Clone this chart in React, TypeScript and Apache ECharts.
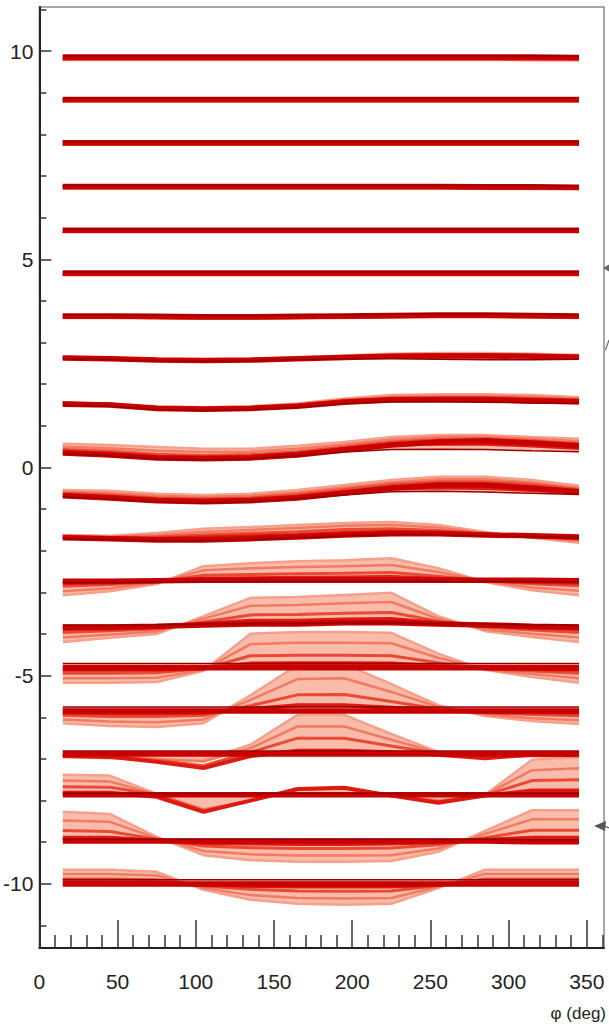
import React, { useEffect, useRef } from "react";
import * as echarts from "echarts";

// phi sample points (deg)
const phi = [15, 45, 75, 105, 135, 165, 195, 225, 255, 285, 315, 345];

// baseline value of every bundle (top to bottom)
const levels = [9.86, 8.84, 7.8, 6.75, 5.7, 4.67, 3.64, 2.63, 1.52, 0.35, -0.68, -1.69, -2.73, -3.83, -4.81, -5.85, -6.88, -7.86, -8.97, -10.0];

// offsets from the bundle baseline; lines per bundle: palest, pale, light, red, main, darkest
const b01 = [
  [-0.07, -0.07, -0.07, -0.07, -0.07, -0.07, -0.07, -0.07, -0.07, -0.07, -0.08, -0.08],
  [-0.06, -0.06, -0.06, -0.06, -0.06, -0.06, -0.06, -0.06, -0.06, -0.06, -0.07, -0.07],
  [-0.05, -0.05, -0.05, -0.05, -0.05, -0.05, -0.05, -0.05, -0.05, -0.05, -0.05, -0.05],
  [-0.03, -0.03, -0.03, -0.03, -0.03, -0.03, -0.03, -0.03, -0.03, -0.03, -0.03, -0.03],
  [0, 0, 0, 0, 0, 0, 0, 0, 0, 0, 0, -0.01],
  [0.03, 0.03, 0.03, 0.03, 0.03, 0.03, 0.03, 0.03, 0.03, 0.03, 0.03, 0.02],
];
const b02 = [
  [-0.05, -0.05, -0.05, -0.05, -0.05, -0.05, -0.05, -0.05, -0.05, -0.05, -0.05, -0.05],
  [-0.04, -0.04, -0.04, -0.04, -0.04, -0.04, -0.04, -0.04, -0.04, -0.04, -0.04, -0.04],
  [-0.03, -0.03, -0.03, -0.03, -0.03, -0.03, -0.03, -0.03, -0.03, -0.03, -0.03, -0.03],
  [-0.02, -0.02, -0.02, -0.02, -0.02, -0.02, -0.02, -0.02, -0.02, -0.02, -0.02, -0.02],
  [0, 0, 0, 0, 0, 0, 0, 0, 0, 0, 0, 0],
  [0.03, 0.03, 0.03, 0.03, 0.03, 0.03, 0.03, 0.03, 0.03, 0.03, 0.03, 0.03],
];
const b03 = [
  [-0.05, -0.05, -0.05, -0.05, -0.05, -0.05, -0.05, -0.05, -0.05, -0.05, -0.05, -0.05],
  [-0.04, -0.04, -0.04, -0.04, -0.04, -0.04, -0.04, -0.04, -0.04, -0.04, -0.04, -0.04],
  [-0.03, -0.03, -0.03, -0.03, -0.03, -0.03, -0.03, -0.03, -0.03, -0.03, -0.03, -0.03],
  [-0.02, -0.02, -0.02, -0.02, -0.02, -0.02, -0.02, -0.02, -0.02, -0.02, -0.02, -0.02],
  [0, 0, 0, 0, 0, 0, 0, 0, 0, 0, 0, 0],
  [0.03, 0.03, 0.03, 0.03, 0.03, 0.03, 0.03, 0.03, 0.03, 0.03, 0.03, 0.03],
];
const b04 = [
  [-0.05, -0.05, -0.05, -0.05, -0.05, -0.05, -0.05, -0.05, -0.05, -0.06, -0.06, -0.07],
  [-0.04, -0.04, -0.04, -0.04, -0.04, -0.04, -0.04, -0.04, -0.04, -0.05, -0.05, -0.06],
  [-0.03, -0.03, -0.03, -0.03, -0.03, -0.03, -0.03, -0.03, -0.03, -0.04, -0.04, -0.05],
  [-0.02, -0.02, -0.02, -0.02, -0.02, -0.02, -0.02, -0.02, -0.02, -0.03, -0.03, -0.03],
  [0, 0, 0, 0, 0, 0, 0, 0, 0, -0.01, -0.01, -0.02],
  [0.03, 0.03, 0.03, 0.03, 0.03, 0.03, 0.03, 0.03, 0.03, 0.02, 0.02, 0.01],
];
const b05 = [
  [-0.05, -0.05, -0.05, -0.05, -0.05, -0.05, -0.05, -0.05, -0.05, -0.05, -0.05, -0.05],
  [-0.04, -0.04, -0.04, -0.04, -0.04, -0.04, -0.04, -0.04, -0.04, -0.04, -0.04, -0.04],
  [-0.03, -0.03, -0.03, -0.03, -0.03, -0.03, -0.03, -0.03, -0.03, -0.03, -0.03, -0.03],
  [-0.02, -0.02, -0.02, -0.02, -0.02, -0.02, -0.02, -0.02, -0.02, -0.02, -0.02, -0.02],
  [0, 0, 0, 0, 0, 0, 0, 0, 0, 0, 0, 0],
  [0.03, 0.03, 0.03, 0.03, 0.03, 0.03, 0.03, 0.03, 0.03, 0.03, 0.03, 0.03],
];
const b06 = [
  [-0.05, -0.05, -0.05, -0.05, -0.05, -0.05, -0.05, -0.05, -0.05, -0.05, -0.05, -0.05],
  [-0.04, -0.04, -0.04, -0.04, -0.04, -0.04, -0.04, -0.04, -0.04, -0.04, -0.04, -0.04],
  [-0.03, -0.03, -0.03, -0.03, -0.03, -0.03, -0.03, -0.03, -0.03, -0.03, -0.03, -0.03],
  [-0.02, -0.02, -0.02, -0.02, -0.02, -0.02, -0.02, -0.02, -0.02, -0.02, -0.02, -0.02],
  [0, 0, 0, 0, 0, 0, 0, 0, 0, 0, 0, 0],
  [0.03, 0.03, 0.03, 0.03, 0.03, 0.03, 0.03, 0.03, 0.03, 0.03, 0.03, 0.03],
];
const b07 = [
  [-0.05, -0.05, -0.06, -0.07, -0.07, -0.06, -0.05, -0.04, -0.03, -0.03, -0.04, -0.05],
  [-0.04, -0.04, -0.05, -0.06, -0.06, -0.05, -0.04, -0.03, -0.02, -0.02, -0.03, -0.04],
  [-0.03, -0.03, -0.04, -0.05, -0.05, -0.04, -0.03, -0.02, -0.01, -0.01, -0.02, -0.03],
  [-0.02, -0.02, -0.03, -0.04, -0.04, -0.03, -0.02, -0.01, 0, 0, -0.01, -0.02],
  [0, 0, -0.01, -0.02, -0.02, -0.01, 0, 0.01, 0.02, 0.02, 0.01, 0],
  [0.03, 0.03, 0.02, 0.01, 0.01, 0.02, 0.03, 0.04, 0.05, 0.05, 0.04, 0.03],
];
const b08 = [
  [0.03, 0.01, -0.03, -0.04, -0.03, 0.01, 0.06, 0.1, 0.12, 0.12, 0.1, 0.07],
  [0.02, 0, -0.04, -0.05, -0.04, 0, 0.04, 0.08, 0.09, 0.09, 0.08, 0.05],
  [0.01, -0.01, -0.04, -0.05, -0.04, -0.01, 0.03, 0.06, 0.07, 0.07, 0.06, 0.04],
  [0, -0.02, -0.05, -0.06, -0.05, -0.02, 0.02, 0.05, 0.06, 0.06, 0.05, 0.03],
  [0, -0.02, -0.05, -0.06, -0.05, -0.02, 0.01, 0.04, 0.05, 0.05, 0.04, 0.02],
  [-0.02, -0.04, -0.07, -0.08, -0.07, -0.04, -0.02, -0.02, -0.03, -0.04, -0.04, -0.03],
];
const b09 = [
  [0.05, 0.02, -0.05, -0.07, -0.05, 0.02, 0.14, 0.22, 0.24, 0.24, 0.22, 0.17],
  [0.04, 0.01, -0.06, -0.08, -0.06, 0, 0.11, 0.18, 0.2, 0.2, 0.18, 0.14],
  [0.03, 0, -0.08, -0.1, -0.08, -0.02, 0.09, 0.15, 0.16, 0.16, 0.14, 0.11],
  [0.02, -0.01, -0.09, -0.11, -0.09, -0.04, 0.07, 0.12, 0.13, 0.13, 0.11, 0.08],
  [0, -0.02, -0.1, -0.12, -0.1, -0.05, 0.05, 0.1, 0.11, 0.11, 0.08, 0.06],
  [-0.03, -0.05, -0.13, -0.15, -0.13, -0.08, 0.02, 0.06, 0.06, 0.05, 0.03, 0.02],
];
const b10 = [
  [0.22, 0.19, 0.14, 0.1, 0.1, 0.17, 0.26, 0.38, 0.43, 0.43, 0.38, 0.34],
  [0.15, 0.11, 0.05, 0.02, 0.03, 0.1, 0.2, 0.32, 0.38, 0.39, 0.34, 0.28],
  [0.08, 0.04, -0.03, -0.06, -0.04, 0.03, 0.14, 0.26, 0.32, 0.34, 0.29, 0.22],
  [0.03, -0.02, -0.09, -0.11, -0.09, -0.02, 0.1, 0.2, 0.22, 0.22, 0.18, 0.12],
  [0, -0.05, -0.12, -0.14, -0.12, -0.05, 0.07, 0.19, 0.26, 0.29, 0.24, 0.17],
  [-0.02, -0.07, -0.14, -0.17, -0.14, -0.07, 0.02, 0.08, 0.09, 0.08, 0.05, 0.03],
];
const b11 = [
  [0.14, 0.12, 0.05, 0.02, 0.05, 0.14, 0.26, 0.38, 0.46, 0.46, 0.38, 0.24],
  [0.1, 0.07, 0, -0.03, 0, 0.08, 0.2, 0.32, 0.4, 0.4, 0.32, 0.19],
  [0.06, 0.02, -0.05, -0.07, -0.05, 0.03, 0.15, 0.27, 0.34, 0.34, 0.27, 0.15],
  [0.02, -0.02, -0.09, -0.11, -0.09, -0.02, 0.08, 0.17, 0.2, 0.19, 0.14, 0.08],
  [0, -0.05, -0.12, -0.14, -0.12, -0.05, 0.07, 0.19, 0.26, 0.26, 0.19, 0.1],
  [-0.02, -0.07, -0.14, -0.17, -0.14, -0.07, 0.02, 0.1, 0.11, 0.09, 0.06, 0.03],
];
const b12 = [
  [0.07, 0.05, 0.12, 0.22, 0.26, 0.31, 0.36, 0.38, 0.31, 0.14, 0, -0.12],
  [0.05, 0.03, 0.07, 0.14, 0.19, 0.24, 0.29, 0.31, 0.25, 0.12, 0.01, -0.07],
  [0.03, 0.01, 0.02, 0.07, 0.11, 0.15, 0.2, 0.22, 0.18, 0.1, 0.03, -0.03],
  [0.01, -0.01, -0.02, 0.01, 0.04, 0.07, 0.12, 0.15, 0.13, 0.08, 0.04, 0],
  [0, -0.02, -0.05, -0.05, -0.02, 0.02, 0.07, 0.1, 0.1, 0.07, 0.05, 0.02],
  [-0.02, -0.04, -0.07, -0.07, -0.04, 0, 0.05, 0.08, 0.08, 0.05, 0.03, 0],
];
const b13 = [
  [-0.34, -0.24, -0.07, 0.36, 0.43, 0.48, 0.5, 0.55, 0.31, -0.02, -0.22, -0.34],
  [-0.24, -0.17, -0.04, 0.26, 0.31, 0.34, 0.36, 0.39, 0.22, 0, -0.15, -0.23],
  [-0.12, -0.08, -0.02, 0.14, 0.16, 0.18, 0.19, 0.21, 0.12, 0.01, -0.06, -0.11],
  [-0.05, -0.03, 0, 0.06, 0.07, 0.08, 0.09, 0.1, 0.06, 0.02, -0.02, -0.04],
  [0, 0, 0.01, 0.02, 0.02, 0.02, 0.02, 0.02, 0.02, 0.02, 0.02, 0.01],
  [-0.03, -0.03, -0.02, -0.01, -0.01, -0.01, -0.01, -0.01, -0.01, -0.01, -0.01, -0.02],
];
const b14 = [
  [-0.36, -0.26, -0.17, 0.26, 0.7, 0.72, 0.77, 0.82, 0.26, -0.1, -0.24, -0.36],
  [-0.25, -0.18, -0.11, 0.2, 0.51, 0.53, 0.57, 0.6, 0.2, -0.06, -0.16, -0.25],
  [-0.13, -0.09, -0.05, 0.12, 0.29, 0.3, 0.33, 0.35, 0.14, 0, -0.07, -0.13],
  [-0.05, -0.04, 0, 0.08, 0.15, 0.15, 0.18, 0.19, 0.1, 0.03, -0.02, -0.05],
  [0, 0, 0.02, 0.05, 0.07, 0.07, 0.1, 0.1, 0.07, 0.05, 0.02, 0],
  [0.04, 0.04, 0.05, 0.07, 0.08, 0.08, 0.1, 0.1, 0.08, 0.07, 0.05, 0.04],
];
const b15 = [
  [-0.36, -0.36, -0.34, -0.07, 0.82, 0.86, 0.86, 0.84, 0.34, -0.05, -0.22, -0.36],
  [-0.25, -0.25, -0.24, -0.05, 0.57, 0.6, 0.6, 0.59, 0.24, -0.04, -0.15, -0.25],
  [-0.13, -0.13, -0.12, -0.02, 0.29, 0.3, 0.3, 0.29, 0.12, -0.02, -0.08, -0.13],
  [-0.05, -0.05, -0.05, -0.01, 0.1, 0.11, 0.11, 0.1, 0.04, -0.01, -0.03, -0.05],
  [0, 0, 0, 0, 0, 0, 0, 0, 0, 0, 0, 0],
  [0.1, 0.1, 0.1, 0.1, 0.1, 0.1, 0.1, 0.1, 0.1, 0.1, 0.1, 0.1],
];
const b16 = [
  [-0.29, -0.36, -0.38, -0.29, 0.38, 1.1, 1.13, 0.65, 0.14, -0.12, -0.24, -0.31],
  [-0.2, -0.25, -0.27, -0.2, 0.27, 0.77, 0.79, 0.46, 0.1, -0.08, -0.17, -0.22],
  [-0.1, -0.13, -0.13, -0.1, 0.13, 0.39, 0.4, 0.23, 0.05, -0.04, -0.08, -0.11],
  [-0.04, -0.05, -0.05, -0.04, 0.05, 0.14, 0.14, 0.08, 0.02, -0.02, -0.03, -0.04],
  [0, 0, 0, 0, 0, 0, 0, 0, 0, 0, 0, 0],
  [0.1, 0.1, 0.1, 0.1, 0.1, 0.1, 0.1, 0.1, 0.1, 0.1, 0.1, 0.1],
];
const b17 = [
  [-0.07, -0.1, -0.14, -0.14, 0.22, 0.94, 0.94, 0.48, 0.05, -0.05, -0.05, -0.07],
  [-0.05, -0.07, -0.12, -0.18, 0.14, 0.66, 0.66, 0.34, 0.03, -0.06, -0.04, -0.05],
  [-0.04, -0.06, -0.15, -0.28, 0.04, 0.38, 0.38, 0.19, 0.01, -0.08, -0.03, -0.04],
  [-0.05, -0.07, -0.19, -0.34, -0.05, 0.08, 0.08, 0.04, -0.02, -0.1, -0.02, -0.02],
  [0, 0, 0, 0, 0, 0, 0, 0, 0, 0, 0, 0],
  [0.07, 0.07, 0.07, 0.07, 0.07, 0.07, 0.07, 0.07, 0.07, 0.07, 0.07, 0.07],
];
const b18 = [
  [0.48, 0.46, 0.02, -0.34, -0.14, 0.12, 0.14, -0.02, -0.14, 0, 0.84, 0.91],
  [0.34, 0.32, 0.01, -0.36, -0.14, 0.13, 0.15, -0.02, -0.15, 0, 0.59, 0.64],
  [0.19, 0.18, 0, -0.38, -0.14, 0.13, 0.16, -0.02, -0.17, -0.01, 0.34, 0.36],
  [0.05, 0.05, -0.05, -0.41, -0.14, 0.14, 0.17, -0.02, -0.19, -0.02, 0.1, 0.1],
  [0, 0, 0, 0, 0, 0, 0, 0, 0, 0, 0, 0],
  [0.03, 0.03, 0.03, 0.03, 0.03, 0.03, 0.03, 0.03, 0.03, 0.03, 0.03, 0.03],
];
const b19 = [
  [0.7, 0.65, 0.1, -0.34, -0.46, -0.5, -0.5, -0.48, -0.26, 0.24, 0.74, 0.74],
  [0.49, 0.46, 0.07, -0.24, -0.32, -0.35, -0.35, -0.34, -0.18, 0.17, 0.52, 0.52],
  [0.25, 0.23, 0.04, -0.12, -0.16, -0.18, -0.18, -0.17, -0.09, 0.08, 0.26, 0.26],
  [0.08, 0.08, 0.01, -0.05, -0.06, -0.07, -0.07, -0.06, -0.03, 0.03, 0.08, 0.08],
  [0, 0, 0, 0, 0, 0, 0, 0, 0, 0, -0.02, -0.02],
  [0.04, 0.04, 0.04, 0.04, 0.04, 0.04, 0.04, 0.04, 0.04, 0.04, 0.03, 0.03],
];
const b20 = [
  [0.34, 0.34, 0.29, -0.14, -0.38, -0.48, -0.5, -0.48, -0.1, 0.34, 0.34, 0.34],
  [0.24, 0.24, 0.2, -0.1, -0.27, -0.34, -0.35, -0.34, -0.07, 0.24, 0.24, 0.24],
  [0.12, 0.12, 0.1, -0.05, -0.13, -0.17, -0.18, -0.17, -0.04, 0.12, 0.12, 0.12],
  [0.04, 0.04, 0.03, -0.02, -0.05, -0.06, -0.06, -0.06, -0.02, 0.04, 0.04, 0.04],
  [0, 0, 0, 0, 0, 0, 0, 0, 0, 0, 0, 0],
  [0.1, 0.1, 0.1, 0.1, 0.1, 0.1, 0.1, 0.1, 0.1, 0.1, 0.1, 0.1],
];

const bundles = [b01, b02, b03, b04, b05, b06, b07, b08, b09, b10, b11, b12, b13, b14, b15, b16, b17, b18, b19, b20];

// axis ticks and labels
const xMajorTicks = [0, 50, 100, 150, 200, 250, 300, 350];
const xMinorTicks = [10, 20, 30, 40, 60, 70, 80, 90, 110, 120, 130, 140, 160, 170, 180, 190, 210, 220, 230, 240, 260, 270, 280, 290, 310, 320, 330, 340, 360];
const yMajorTicks = [-10, -5, 0, 5, 10];
const yMinorTicks = [-11, -9, -8, -7, -6, -4, -3, -2, -1, 1, 2, 3, 4, 6, 7, 8, 9, 11];
const xTitle = "φ (deg)";

const FONT = "'Liberation Sans', Arial, Helvetica, sans-serif";
const FAN_FILL = "#f9bcab";
const ROLE_STYLES = [
  { color: "#f5a08b", width: 2.5 },
  { color: "#f07a62", width: 2.5 },
  { color: "#e84a36", width: 3 },
  { color: "#dc1a10", width: 4 },
  { color: "#c80000", width: 5.5 },
  { color: "#960000", width: 1.5 },
];

const X_MIN = 0;
const X_MAX = 361;
const Y_MIN = -11.54;
const Y_MAX = 11.06;

export default function App() {
  const ref = useRef<HTMLDivElement>(null);

  useEffect(() => {
    if (!ref.current) return;
    const chart = echarts.init(ref.current, null, { renderer: "svg" });
    const series: any[] = [];

    bundles.forEach((lines, b) => {
      const lev = levels[b];
      const light = lines[0];
      const dark = lines[5];
      series.push({
        type: "custom",
        silent: true,
        z: 1,
        xAxisIndex: 0,
        yAxisIndex: 0,
        data: [[phi[0], lev]],
        encode: { x: 0, y: 1 },
        renderItem: (_p: any, api: any) => {
          const top = phi.map((x, i) => api.coord([x, lev + light[i]]));
          const bot = phi.map((x, i) => api.coord([x, lev + dark[i]])).reverse();
          return {
            type: "polygon",
            shape: { points: top.concat(bot) },
            style: { fill: FAN_FILL },
          };
        },
      });
    });

    ROLE_STYLES.forEach((st, r) => {
      bundles.forEach((lines, b) => {
        series.push({
          type: "line",
          silent: true,
          symbol: "none",
          xAxisIndex: 0,
          yAxisIndex: 0,
          z: 2 + r,
          data: phi.map((x, i) => [x, levels[b] + lines[r][i]]),
          lineStyle: { color: st.color, width: st.width },
        });
      });
    });

    chart.setOption({
      animation: false,
      backgroundColor: "#ffffff",
      grid: {
        left: 39,
        right: 5,
        top: 7,
        bottom: 82,
        show: true,
        borderColor: "#8a8a8a",
        borderWidth: 1.5,
        backgroundColor: "transparent",
      },
      xAxis: [
        {
          type: "value",
          min: X_MIN,
          max: X_MAX,
          position: "bottom",
          axisLine: { show: true, onZero: false, lineStyle: { color: "#222", width: 2 } },
          axisTick: { show: true, inside: true, length: 28, customValues: xMajorTicks, lineStyle: { color: "#333", width: 1.5 } },
          axisLabel: { show: true, customValues: xMajorTicks, fontSize: 21, color: "#222", margin: 23, fontFamily: FONT },
          splitLine: { show: false },
        },
        {
          type: "value",
          min: X_MIN,
          max: X_MAX,
          position: "bottom",
          axisLine: { show: false, onZero: false },
          axisTick: { show: true, inside: true, length: 13, customValues: xMinorTicks, lineStyle: { color: "#333", width: 1.5 } },
          axisLabel: { show: false },
          splitLine: { show: false },
        },
      ],
      yAxis: [
        {
          type: "value",
          min: Y_MIN,
          max: Y_MAX,
          position: "left",
          axisLine: { show: true, onZero: false, lineStyle: { color: "#222", width: 2 } },
          axisTick: { show: true, inside: true, length: 12, customValues: yMajorTicks, lineStyle: { color: "#333", width: 1.5 } },
          axisLabel: { show: true, customValues: yMajorTicks, fontSize: 21, color: "#222", margin: 6, fontFamily: FONT },
          splitLine: { show: false },
        },
        {
          type: "value",
          min: Y_MIN,
          max: Y_MAX,
          position: "left",
          axisLine: { show: false, onZero: false },
          axisTick: { show: true, inside: true, length: 7, customValues: yMinorTicks, lineStyle: { color: "#333", width: 1.5 } },
          axisLabel: { show: false },
          splitLine: { show: false },
        },
      ],
      graphic: [
        {
          type: "text",
          style: { text: xTitle, x: 606, y: 1013, align: "right", verticalAlign: "middle", fontSize: 17, fill: "#222", fontFamily: FONT },
        },
        { type: "polygon", shape: { points: [[603, 268], [609, 264.5], [609, 271.5]] }, style: { fill: "#666" } },
        { type: "line", shape: { x1: 605.5, y1: 350, x2: 609, y2: 340 }, style: { stroke: "#666", lineWidth: 1.2 } },
        { type: "polygon", shape: { points: [[594, 826], [606, 821], [605, 831]] }, style: { fill: "#555" } },
        { type: "line", shape: { x1: 604, y1: 826, x2: 609, y2: 828 }, style: { stroke: "#555", lineWidth: 1.2 } },
      ],
      series,
    });

    return () => chart.dispose();
  }, []);

  return (
    <div
      ref={ref}
      style={{ position: "absolute", left: 0, top: 0, width: 609, height: 1030, background: "#fff" }}
    />
  );
}
